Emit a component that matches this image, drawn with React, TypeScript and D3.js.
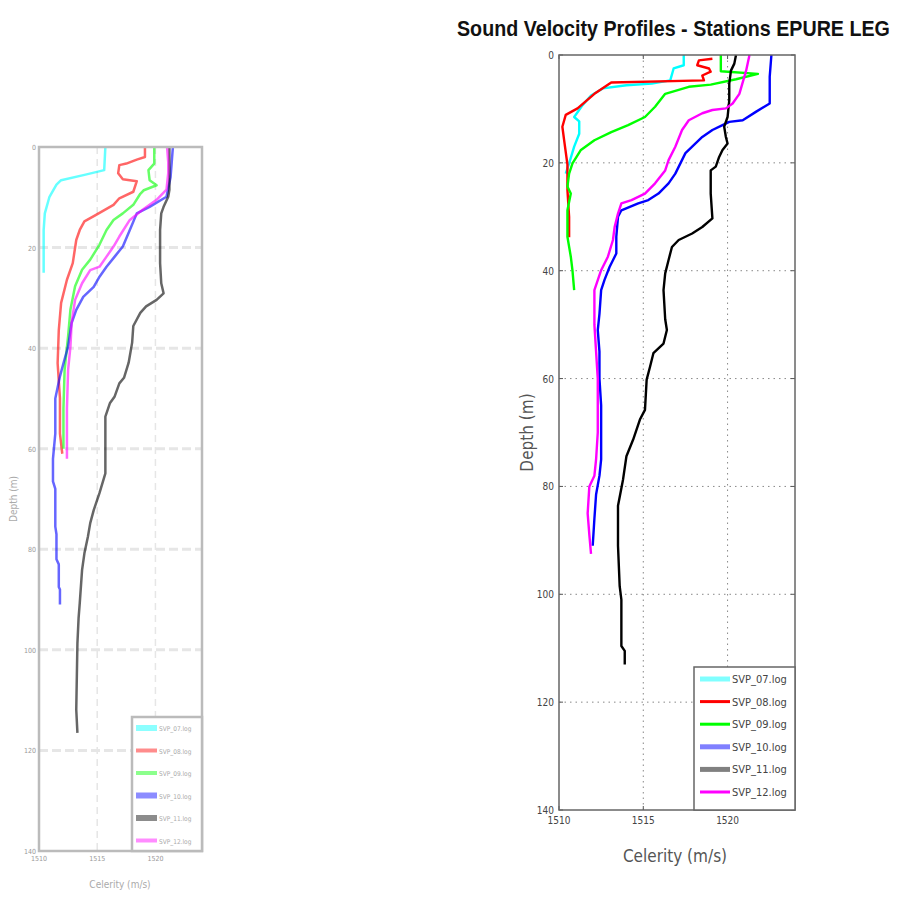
import React from 'react';
import * as d3 from 'd3';

// station names and colours
const stations = ['SVP_07.log', 'SVP_08.log', 'SVP_09.log', 'SVP_10.log', 'SVP_11.log', 'SVP_12.log'];
const lineColors = ['#00ffff', '#ff0000', '#00ff00', '#0000ff', '#000000', '#ff00ff'];
const legendColors = ['#80ffff', '#ff0000', '#00ff00', '#8080ff', '#808080', '#ff00ff'];
const legendWidths = [5, 3, 3, 5, 5, 3];

const depthTicks = [0, 20, 40, 60, 80, 100, 120, 140];
const celerityTicks = [1510, 1515, 1520];
const celerityDomain = [1510, 1524];
const depthDomain = [0, 140];

// [depth, celerity] - right panel
const svp07 = [[0, 1517.4], [1.9, 1517.4], [2.5, 1516.8], [4.7, 1516.6], [5.3, 1515.5], [5.6, 1514.0], [6.2, 1512.6], [7.5, 1511.9], [9.3, 1511.4], [11.5, 1510.9], [12.3, 1511.2], [14.6, 1511.2], [17, 1510.9], [20.1, 1510.6], [22, 1510.4]];
const svp08 = [[0.7, 1519.1], [1.0, 1518.3], [1.9, 1518.2], [2.5, 1518.9], [3.1, 1519.0], [3.8, 1518.5], [4.7, 1518.6], [5.1, 1513.1], [7.2, 1512.1], [9.9, 1511.1], [11.1, 1510.4], [13.3, 1510.2], [15.7, 1510.3], [20.3, 1510.5], [25, 1510.5], [30, 1510.6], [33.8, 1510.6]];
const svp09 = [[0, 1519.6], [3, 1519.6], [3.5, 1521.8], [4.5, 1520.5], [5.5, 1519.0], [5.9, 1517.7], [7.2, 1516.3], [9.6, 1515.7], [11.5, 1515.1], [13, 1514.1], [14.3, 1513.1], [15.8, 1512.1], [17.6, 1511.3], [20.1, 1510.8], [22, 1510.6], [24.4, 1510.5], [25.7, 1510.7], [28.8, 1510.5], [33.7, 1510.5], [37.4, 1510.7], [40, 1510.8], [43.6, 1510.9]];
const svp10 = [[0, 1522.6], [4, 1522.5], [9, 1522.5], [10.5, 1521.7], [12.1, 1520.9], [12.4, 1520.1], [13, 1519.7], [13.9, 1519.1], [15.2, 1518.5], [17, 1517.9], [18.2, 1517.5], [20.1, 1517.2], [22, 1516.9], [23.8, 1516.5], [25.7, 1515.9], [26.9, 1515.3], [27.5, 1514.7], [28.8, 1513.7], [30, 1513.5], [33.7, 1513.4], [36.8, 1513.4], [39.3, 1513.0], [41.7, 1512.7], [43.6, 1512.5], [48, 1512.4], [51, 1512.3], [55, 1512.4], [60, 1512.4], [65, 1512.5], [70, 1512.5], [75, 1512.5], [78, 1512.4], [81.5, 1512.2], [86, 1512.1], [91, 1512.0]];
const svp11 = [[0, 1520.5], [1.6, 1520.4], [2.9, 1520.2], [5.3, 1520.1], [8.4, 1520.1], [11.5, 1520.0], [13.3, 1519.8], [15.2, 1519.9], [16.4, 1520.0], [17.6, 1519.7], [18.9, 1519.5], [20.7, 1519.3], [21.4, 1519.0], [25.7, 1519.0], [30.3, 1519.1], [31.9, 1518.5], [33.1, 1517.9], [34.3, 1517.1], [35.6, 1516.7], [38, 1516.5], [40.5, 1516.3], [43.6, 1516.2], [49, 1516.3], [51, 1516.4], [53.5, 1516.2], [55.3, 1515.6], [57.8, 1515.4], [60.2, 1515.2], [65.8, 1515.1], [67.6, 1514.8], [71.3, 1514.4], [74.4, 1514.0], [78.7, 1513.8], [83.6, 1513.5], [91, 1513.5], [98.5, 1513.6], [101, 1513.7], [109.6, 1513.7], [110.5, 1513.9], [113, 1513.9]];
const svp12 = [[0, 1521.3], [2.9, 1521.1], [7.2, 1520.7], [9.0, 1520.3], [9.9, 1519.9], [10.2, 1519.1], [10.8, 1518.5], [12.1, 1517.7], [13.9, 1517.3], [17, 1516.9], [19.5, 1516.5], [21.4, 1516.3], [23.8, 1515.7], [25.7, 1515.1], [26.9, 1514.3], [27.5, 1513.7], [29.4, 1513.5], [31.9, 1513.3], [34.3, 1513.2], [37.4, 1512.9], [39.9, 1512.5], [43.6, 1512.1], [50, 1512.1], [55, 1512.2], [60, 1512.3], [65, 1512.3], [70, 1512.3], [75, 1512.2], [78, 1512.1], [80, 1511.8], [85, 1511.7], [89, 1511.8], [92.5, 1511.9]];

// [depth, celerity] - left panel
const svp07b = [[0, 1515.7], [4.6, 1515.6], [5.5, 1514.0], [6.6, 1511.9], [7.5, 1511.5], [9.9, 1510.9], [13.2, 1510.5], [16.5, 1510.4], [20, 1510.4], [25, 1510.4]];
const svp08b = [[0, 1519.1], [2, 1519.1], [2.5, 1518.4], [3.3, 1517.5], [3.6, 1516.9], [5.2, 1516.8], [6.4, 1517.2], [6.8, 1518.4], [8.9, 1518.1], [10.2, 1516.9], [11.5, 1516.4], [13.5, 1514.9], [14.8, 1513.9], [16.5, 1513.5], [18.5, 1513.2], [23.1, 1512.9], [26.4, 1512.4], [31, 1511.9], [36.4, 1511.7], [43, 1511.6], [50, 1511.8], [57, 1511.8], [61, 1512.0]];
const svp09b = [[0, 1519.9], [3.3, 1519.9], [4.6, 1519.4], [6.6, 1519.5], [7.6, 1520.1], [8.6, 1519.0], [9.3, 1518.7], [11.5, 1518.1], [13.2, 1517.2], [14.5, 1516.4], [16.5, 1515.8], [19.4, 1515.2], [22.4, 1514.4], [24.4, 1513.7], [27.7, 1513.1], [32.3, 1512.7], [37.6, 1512.5], [44.3, 1512.2], [52, 1512.1], [60, 1512.1]];
const svp10b = [[0, 1521.5], [3, 1521.4], [6, 1521.3], [9.9, 1520.95], [11.9, 1519.5], [13.2, 1518.4], [16.5, 1517.8], [19.8, 1517.2], [21.8, 1516.5], [23.8, 1515.8], [25.8, 1515.2], [27.8, 1514.7], [29.8, 1513.8], [32.4, 1513.2], [35, 1512.8], [39.7, 1512.5], [43, 1512.1], [45.6, 1511.8], [50, 1511.4], [57, 1511.4], [62, 1511.2], [66.5, 1511.2], [68, 1511.4], [75.5, 1511.4], [77, 1511.5], [82, 1511.5], [83, 1511.7], [87.5, 1511.7], [88, 1511.8], [91, 1511.8]];
const svp11b = [[0, 1521.2], [8.5, 1521.2], [9.9, 1521.1], [11.9, 1520.7], [13.2, 1520.5], [16.5, 1520.4], [23.1, 1520.4], [27.1, 1520.5], [29.1, 1520.7], [30.4, 1520.1], [31.7, 1519.2], [33, 1518.7], [35.6, 1518.1], [38.9, 1518.0], [42.9, 1517.7], [45.9, 1517.3], [47, 1516.9], [49.6, 1516.5], [50.9, 1516.1], [53.6, 1515.7], [64.9, 1515.7], [68.8, 1515.2], [72.2, 1514.7], [74.8, 1514.4], [77.5, 1514.2], [80.8, 1513.9], [84.1, 1513.7], [90.7, 1513.5], [93.7, 1513.4], [98.7, 1513.3], [111.9, 1513.2], [116.5, 1513.3]];
const svp12b = [[0, 1521.0], [3, 1521.1], [5.2, 1521.1], [8.5, 1520.95], [10.5, 1520.1], [12.5, 1518.9], [14.5, 1517.8], [17.8, 1516.9], [19.8, 1516.4], [21.8, 1515.8], [23.8, 1515.2], [24.5, 1514.4], [27.1, 1513.7], [30.4, 1513.1], [35, 1512.8], [39.7, 1512.7], [44.3, 1512.5], [52, 1512.4], [62, 1512.4]];

const rightProfiles = [svp07, svp08, svp09, svp10, svp11, svp12];
const leftProfiles = [svp07b, svp08b, svp09b, svp10b, svp11b, svp12b];

const font = '"Liberation Sans", Arial, sans-serif';
const narrow = '"DejaVu Sans Condensed", "Liberation Sans Narrow", "Liberation Sans", sans-serif';

function RightPanel() {
  const left = 559, right = 795, top = 55, bottom = 810;
  const x = d3.scaleLinear().domain(celerityDomain).range([left, right]);
  const y = d3.scaleLinear().domain(depthDomain).range([top, bottom]);
  const line = d3.line<number[]>().x((d) => x(d[1])).y((d) => y(d[0]));

  const legX = 694, legY = 667, legW = right - legX, legH = bottom - legY;
  return (
    <g>
      {/* title squeezed horizontally like the original narrow font */}
      <text transform="translate(457,36) scale(0.895,1)" fontFamily={font} fontWeight="bold" fontSize={22} fill="#111">
        Sound Velocity Profiles - Stations EPURE LEG
      </text>
      <rect x={left} y={top} width={right - left} height={bottom - top} fill="#fff" />
      {celerityTicks.slice(1).map((t) => (
        <line key={'gx' + t} x1={x(t)} x2={x(t)} y1={top} y2={bottom} stroke="#888" strokeDasharray="1.5,4" />
      ))}
      {depthTicks.slice(1, -1).map((t) => (
        <line key={'gy' + t} x1={left} x2={right} y1={y(t)} y2={y(t)} stroke="#888" strokeDasharray="1.5,4" />
      ))}
      {rightProfiles.map((p, i) => (
        <path key={stations[i]} d={line(p) || ''} fill="none" stroke={lineColors[i]} strokeWidth={2.4} strokeLinejoin="round" />
      ))}
      {depthTicks.map((t) => (
        <g key={'ty' + t}>
          <line x1={left} x2={left + 4} y1={y(t)} y2={y(t)} stroke="#555" />
          <line x1={right - 4} x2={right} y1={y(t)} y2={y(t)} stroke="#555" />
          <text x={left - 5} y={y(t) + 4} textAnchor="end" fontFamily={narrow} fontSize={10} fill="#444">{t}</text>
        </g>
      ))}
      {celerityTicks.map((t) => (
        <g key={'tx' + t}>
          <line x1={x(t)} x2={x(t)} y1={bottom - 4} y2={bottom} stroke="#555" />
          <line x1={x(t)} x2={x(t)} y1={top} y2={top + 4} stroke="#555" />
          <text x={x(t)} y={bottom + 14} textAnchor="middle" fontFamily={narrow} fontSize={10} fill="#444">{t}</text>
        </g>
      ))}
      <rect x={left} y={top} width={right - left} height={bottom - top} fill="none" stroke="#666" strokeWidth={1.5} />
      <text x={675} y={862} textAnchor="middle" fontFamily={narrow} fontSize={17} fill="#555">Celerity (m/s)</text>
      <text transform={`translate(533,${y(70)}) rotate(-90)`} textAnchor="middle" fontFamily={narrow} fontSize={17} fill="#555">Depth (m)</text>
      <rect x={legX} y={legY} width={legW} height={legH} fill="#fff" stroke="#666" strokeWidth={1.5} />
      {stations.map((s, i) => {
        const ly = legY + 12 + i * 22.6;
        return (
          <g key={'lg' + s}>
            <line x1={legX + 6} x2={legX + 36} y1={ly} y2={ly} stroke={legendColors[i]} strokeWidth={legendWidths[i]} />
            <text x={legX + 38} y={ly + 4} fontFamily={narrow} fontSize={11} fill="#444">{s}</text>
          </g>
        );
      })}
    </g>
  );
}

function LeftPanel() {
  const left = 39, right = 202, top = 147, bottom = 851;
  const x = d3.scaleLinear().domain(celerityDomain).range([left, right]);
  const y = d3.scaleLinear().domain(depthDomain).range([top, bottom]);
  const line = d3.line<number[]>().x((d) => x(d[1])).y((d) => y(d[0]));

  const legX = 132, legY = 717, legW = right - legX, legH = bottom - legY;
  return (
    <g>
      <rect x={left} y={top} width={right - left} height={bottom - top} fill="#fff" />
      {celerityTicks.slice(1).map((t) => (
        <line key={'gx' + t} x1={x(t)} x2={x(t)} y1={top} y2={bottom} stroke="#e6e6e6" strokeWidth={1.5} strokeDasharray="7,5" />
      ))}
      {depthTicks.slice(1, -1).map((t) => (
        <line key={'gy' + t} x1={left} x2={right} y1={y(t)} y2={y(t)} stroke="#e6e6e6" strokeWidth={3} strokeDasharray="9,4" />
      ))}
      {leftProfiles.map((p, i) => (
        <path key={stations[i]} d={line(p) || ''} fill="none" stroke={lineColors[i]} strokeOpacity={0.6} strokeWidth={2.5} strokeLinejoin="round" />
      ))}
      {depthTicks.map((t) => (
        <text key={'ty' + t} x={left - 3} y={y(t) + 3} textAnchor="end" fontFamily={narrow} fontSize={7} fill="#999">{t}</text>
      ))}
      {celerityTicks.map((t) => (
        <text key={'tx' + t} x={x(t)} y={bottom + 10} textAnchor="middle" fontFamily={narrow} fontSize={7} fill="#999">{t}</text>
      ))}
      <rect x={left} y={top} width={right - left} height={bottom - top} fill="none" stroke="#bbb" strokeWidth={2.5} />
      <text x={120} y={888} textAnchor="middle" fontFamily={narrow} fontSize={10} fill="#aaa">Celerity (m/s)</text>
      <text transform={`translate(17,${y(70)}) rotate(-90)`} textAnchor="middle" fontFamily={narrow} fontSize={10} fill="#aaa">Depth (m)</text>
      <rect x={legX} y={legY} width={legW} height={legH} fill="#fff" stroke="#bbb" strokeWidth={2.5} />
      {stations.map((s, i) => {
        const ly = legY + 11 + i * 22.5;
        return (
          <g key={'lg' + s}>
            <line x1={legX + 4} x2={legX + 25} y1={ly} y2={ly} stroke={lineColors[i]} strokeOpacity={0.45} strokeWidth={legendWidths[i] + 1} />
            <text x={legX + 27} y={ly + 3} fontFamily={narrow} fontSize={6.5} fill="#aaa">{s}</text>
          </g>
        );
      })}
    </g>
  );
}

export default function App() {
  return (
    <div style={{ position: 'absolute', left: 0, top: 0 }}>
      <svg width={897} height={901} style={{ display: 'block', background: '#fff' }}>
        <LeftPanel />
        <RightPanel />
      </svg>
    </div>
  );
}
